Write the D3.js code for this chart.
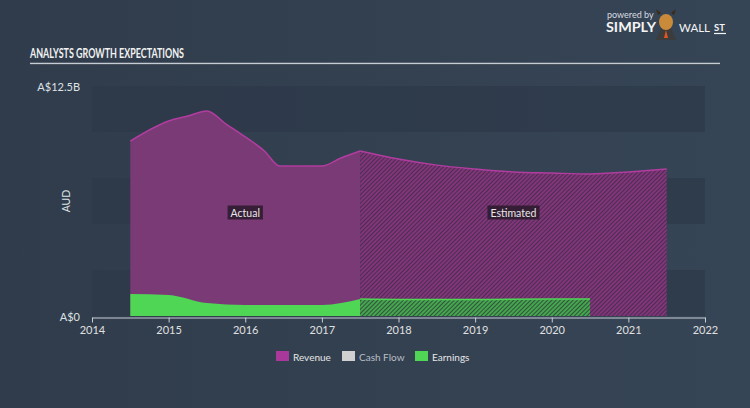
<!DOCTYPE html>
<html><head><meta charset="utf-8">
<script src="https://cdn.jsdelivr.net/npm/d3@7"></script>
<style>
html,body{margin:0;padding:0;background:#333f4f;}
svg{display:block;}
text{font-family:Lato,"Open Sans",sans-serif;}
</style></head>
<body>
<svg id="c" width="750" height="408"></svg>
<script>
// ---- data ----
const revActualX = [2014.5, 2015.0, 2015.25, 2015.5, 2015.75, 2016.0, 2016.25, 2016.45, 2017.0, 2017.25, 2017.5];
const revActualY = [9.51, 10.6, 10.87, 11.14, 10.43, 9.73, 8.97, 8.15, 8.15, 8.59, 8.97];
const revEstX = [2017.5, 2018.0, 2018.5, 2019.0, 2019.5, 2020.0, 2020.5, 2021.0, 2021.5];
const revEstY = [8.97, 8.53, 8.2, 7.99, 7.83, 7.77, 7.72, 7.83, 7.99];
const earnActualX = [2014.5, 2015.0, 2015.5, 2016.0, 2016.5, 2017.0, 2017.5];
const earnActualY = [1.2, 1.14, 0.7, 0.6, 0.6, 0.6, 0.92];
const earnEstX = [2017.5, 2018.0, 2019.0, 2020.0, 2020.5];
const earnEstY = [0.92, 0.9, 0.9, 0.92, 0.93];
const xTicks = [2014, 2015, 2016, 2017, 2018, 2019, 2020, 2021, 2022];
const yTickLabels = ["A$0", "A$12.5B"];
const yTickValues = [0, 12.5];
const legendNames = ["Revenue", "Cash Flow", "Earnings"];
const legendColors = ["#a8399a", "#d0d0d0", "#4fd655"];

const svg = d3.select("#c");
const defs = svg.append("defs");

const bg = defs.append("linearGradient").attr("id","bg").attr("x1","0").attr("x2","1").attr("y1","0").attr("y2","0");
bg.append("stop").attr("offset","0").attr("stop-color","#303c4b");
bg.append("stop").attr("offset","1").attr("stop-color","#364556");
svg.append("rect").attr("width",750).attr("height",408).attr("fill","url(#bg)");

function hatch(id, base, line){
  const p = defs.append("pattern").attr("id",id).attr("patternUnits","userSpaceOnUse")
    .attr("width",3).attr("height",3).attr("patternTransform","rotate(-45)");
  p.append("rect").attr("width",3).attr("height",3).attr("fill",base);
  p.append("line").attr("x1",0).attr("y1",1).attr("x2",3).attr("y2",1).attr("stroke",line).attr("stroke-width",1.3);
}
hatch("hRev","#4a2d52","#a0398f");
hatch("hEarn","#33503f","#4fd655");

const x = d3.scaleLinear().domain([2014, 2022]).range([92, 705]);
const y = d3.scaleLinear().domain([0, 12.5]).range([316, 86]);

// bands
const bandEdges = d3.range(0, 13, 2.5);
for (let i = 0; i < 5; i++) {
  if (i % 2 === 0) {
    svg.append("rect").attr("x", x(2014)).attr("width", x(2022) - x(2014))
      .attr("y", y(bandEdges[5 - i])).attr("height", y(bandEdges[4 - i]) - y(bandEdges[5 - i]))
      .attr("fill", "#2e3a49").attr("opacity", 0.75);
  }
}

function pts(xs, ys){ return xs.map((v,i)=>[v, ys[i]]); }
const area = d3.area().x(d=>x(d[0])).y0(y(0)).y1(d=>y(d[1])).curve(d3.curveMonotoneX);
const line = d3.line().x(d=>x(d[0])).y(d=>y(d[1])).curve(d3.curveMonotoneX);

const rA = pts(revActualX, revActualY), rE = pts(revEstX, revEstY);
const eA = pts(earnActualX, earnActualY), eE = pts(earnEstX, earnEstY);

svg.append("path").attr("d", area(rA)).attr("fill", "#7a3a75");
svg.append("path").attr("d", area(rE)).attr("fill", "url(#hRev)");
svg.append("path").attr("d", line(rA)).attr("fill","none").attr("stroke","#b13da0").attr("stroke-width",1.5);
svg.append("path").attr("d", line(rE)).attr("fill","none").attr("stroke","#b13da0").attr("stroke-width",1.5);

svg.append("path").attr("d", area(eA)).attr("fill", "#4fd655");
svg.append("path").attr("d", area(eE)).attr("fill", "url(#hEarn)");
svg.append("path").attr("d", line(eE)).attr("fill","none").attr("stroke","#4fd655").attr("stroke-width",1.5);

// labels Actual / Estimated
function tag(cx, cy, txt){
  const g = svg.append("g");
  const t = g.append("text").attr("x",cx).attr("y",cy).attr("text-anchor","middle")
    .attr("dominant-baseline","central").attr("font-size",10.5).attr("fill","#e8e8e8").text(txt);
  const bb = t.node().getBBox();
  g.insert("rect","text").attr("x",bb.x-3).attr("y",cy-7).attr("width",bb.width+6).attr("height",14)
    .attr("fill","#2a1a2b").attr("opacity",0.85);
}
tag((x(2014.5)+x(2017.5))/2, 212.5, "Actual");
tag((x(2017.5)+x(2021.5))/2, 212.5, "Estimated");

// x axis
const xa = svg.append("g").attr("transform","translate(0,317.5)")
  .call(d3.axisBottom(x).tickValues(xTicks).tickFormat(d3.format("d")).tickSize(5).tickSizeOuter(0));
xa.select(".domain").attr("stroke","#c9ced6");
xa.selectAll(".tick line").attr("stroke","#c9ced6");
xa.selectAll(".tick text").attr("fill","#e0e0e0").attr("font-size",11).attr("font-family","Lato,sans-serif").attr("dy","0.75em");

// y labels
yTickValues.forEach((v,i)=>{
  svg.append("text").attr("x",80).attr("y",y(v)).attr("text-anchor","end").attr("dominant-baseline","central")
    .attr("font-size",11).attr("fill","#dfe2e6").text(yTickLabels[i]);
});
svg.append("text").attr("transform","translate(66,201) rotate(-90)").attr("text-anchor","middle")
  .attr("dominant-baseline","central").attr("font-size",10.5).attr("fill","#dfe2e6").text("AUD");

// legend
const lx = [276, 342, 415];
legendNames.forEach((n,i)=>{
  svg.append("rect").attr("x",lx[i]).attr("y",351).attr("width",13).attr("height",10).attr("fill",legendColors[i]);
  svg.append("text").attr("x",lx[i]+17).attr("y",356.5).attr("dominant-baseline","central")
    .attr("font-size",10).attr("fill", i===1 ? "#b8bec7" : "#e6e6e6").text(n);
});

// title
svg.append("text").attr("x",30).attr("y",58).attr("font-family","'Liberation Sans Narrow','DejaVu Sans Condensed',sans-serif")
  .attr("font-weight","bold").attr("font-size",14).attr("fill","#f2f2f2")
  .attr("textLength",154).attr("lengthAdjust","spacingAndGlyphs").text("ANALYSTS GROWTH EXPECTATIONS");
svg.append("line").attr("x1",30).attr("x2",720).attr("y1",64.5).attr("y2",64.5).attr("stroke","#1f2833").attr("stroke-width",1);
svg.append("line").attr("x1",30).attr("x2",720).attr("y1",63.5).attr("y2",63.5).attr("stroke","#c5ccd4").attr("stroke-width",1.5);

// logo
svg.append("text").attr("x",607).attr("y",18).attr("font-size",9).attr("fill","#d7dbe0").text("powered by");
svg.append("text").attr("x",606).attr("y",32).attr("font-size",13.5).attr("font-weight","bold").attr("fill","#f4f4f4")
  .attr("textLength",50).attr("lengthAdjust","spacingAndGlyphs").text("SIMPLY");
const lg = svg.append("g");
lg.append("path").attr("d","M656,40 L661,28 L671,28 L676,40 Z").attr("fill","#3c3c3c");
lg.append("ellipse").attr("cx",666).attr("cy",22).attr("rx",7).attr("ry",8).attr("fill","#c98a3a");
lg.append("path").attr("d","M658,15 L656,9 L661,13 Z M674,15 L676,9 L671,13 Z").attr("fill","#3a2a1a");
lg.append("path").attr("d","M666,30 L664,38 L668,38 Z").attr("fill","#e0561e");
svg.append("text").attr("x",679).attr("y",32).attr("font-size",11.5).attr("fill","#f4f4f4").text("WALL");
svg.append("text").attr("x",714).attr("y",31).attr("font-size",9.5).attr("font-weight","bold").attr("fill","#f4f4f4").text("ST");
svg.append("line").attr("x1",714).attr("x2",726).attr("y1",33.5).attr("y2",33.5).attr("stroke","#f4f4f4").attr("stroke-width",1.2);
</script>
</body></html>
